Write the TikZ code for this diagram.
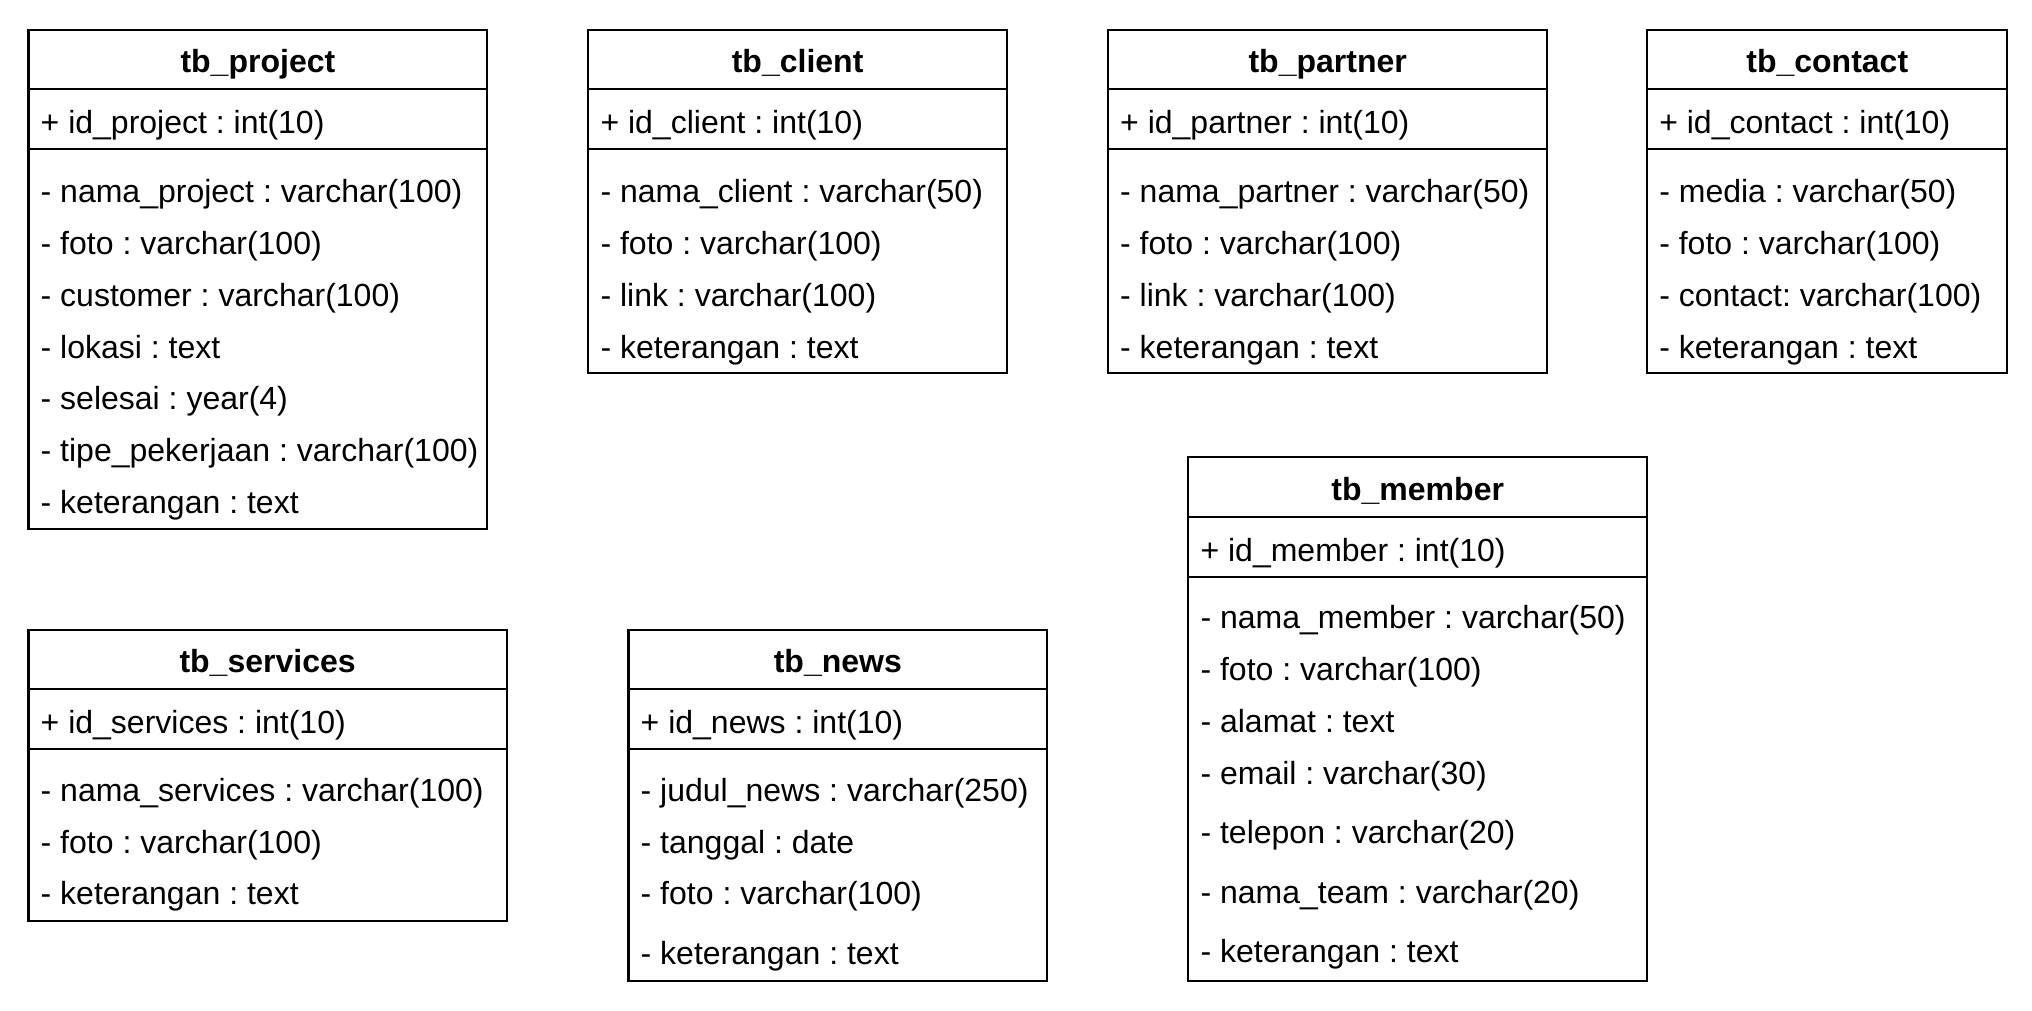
\documentclass[tikz,border=0pt]{standalone}
\usepackage{fontspec}
\setmainfont{Liberation Sans}
\frenchspacing
\begin{document}
\begin{tikzpicture}[x=0.5pt,y=-0.5pt,
  tbl/.style={draw=black,line width=0.8pt},
  sep/.style={draw=black,line width=0.8pt},
  ttl/.style={anchor=base,inner sep=0pt,font=\fontsize{12.35}{14}\selectfont\bfseries},
  fld/.style={anchor=base west,inner sep=0pt,font=\fontsize{12.35}{14}\selectfont}]
\useasboundingbox (0,0) rectangle (1568,779.4);
\fill[white] (0,0) rectangle (1568,779.4);

% ---------- tb_project ----------
\draw[tbl] (22,23) rectangle (376,408);
\draw[sep] (22,69) -- (376,69);
\draw[sep] (22,115) -- (376,115);
\node[ttl] (pT) at (199,56) {tb\_project};
\node[fld] (p0) at (31,103) {+ id\_project : int(10)};
\node[fld] (p1) at (31,156.3) {- nama\_project : varchar(100)};
\node[fld] (p2) at (31,196.3) {- foto : varchar(100)};
\node[fld] (p3) at (31,236.3) {- customer : varchar(100)};
\node[fld] (p4) at (31,276.3) {- lokasi : text};
\node[fld] (p5) at (31,316.3) {- selesai : year(4)};
\node[fld] (p6) at (31,356.3) {- tipe\_pekerjaan : varchar(100)};
\node[fld] (p7) at (31,396.3) {- keterangan : text};

% ---------- tb_client ----------
\draw[tbl] (454,23) rectangle (777,288);
\draw[sep] (454,69) -- (777,69);
\draw[sep] (454,115) -- (777,115);
\node[ttl] (cT) at (615.5,56) {tb\_client};
\node[fld] (c0) at (463,103) {+ id\_client : int(10)};
\node[fld] (c1) at (463,156.3) {- nama\_client : varchar(50)};
\node[fld] (c2) at (463,196.3) {- foto : varchar(100)};
\node[fld] (c3) at (463,236.3) {- link : varchar(100)};
\node[fld] (c4) at (463,276.3) {- keterangan : text};

% ---------- tb_partner ----------
\draw[tbl] (855,23) rectangle (1194,288);
\draw[sep] (855,69) -- (1194,69);
\draw[sep] (855,115) -- (1194,115);
\node[ttl] (rT) at (1024.5,56) {tb\_partner};
\node[fld] (r0) at (864,103) {+ id\_partner : int(10)};
\node[fld] (r1) at (864,156.3) {- nama\_partner : varchar(50)};
\node[fld] (r2) at (864,196.3) {- foto : varchar(100)};
\node[fld] (r3) at (864,236.3) {- link : varchar(100)};
\node[fld] (r4) at (864,276.3) {- keterangan : text};

% ---------- tb_contact ----------
\draw[tbl] (1271,23) rectangle (1549,288);
\draw[sep] (1271,69) -- (1549,69);
\draw[sep] (1271,115) -- (1549,115);
\node[ttl] (kT) at (1410,56) {tb\_contact};
\node[fld] (k0) at (1280,103) {+ id\_contact : int(10)};
\node[fld] (k1) at (1280,156.3) {- media : varchar(50)};
\node[fld] (k2) at (1280,196.3) {- foto : varchar(100)};
\node[fld] (k3) at (1280,236.3) {- contact: varchar(100)};
\node[fld] (k4) at (1280,276.3) {- keterangan : text};

% ---------- tb_member ----------
\draw[tbl] (917,353) rectangle (1271,757);
\draw[sep] (917,399) -- (1271,399);
\draw[sep] (917,445) -- (1271,445);
\node[ttl] (mT) at (1094,386.5) {tb\_member};
\node[fld] (m0) at (926,433) {+ id\_member : int(10)};
\node[fld] (m1) at (926,485.3) {- nama\_member : varchar(50)};
\node[fld] (m2) at (926,525.3) {- foto : varchar(100)};
\node[fld] (m3) at (926,565.3) {- alamat : text};
\node[fld] (m4) at (926,605.3) {- email : varchar(30)};
\node[fld] (m5) at (926,651) {- telepon : varchar(20)};
\node[fld] (m6) at (926,697) {- nama\_team : varchar(20)};
\node[fld] (m7) at (926,743) {- keterangan : text};

% ---------- tb_services ----------
\draw[tbl] (22,486) rectangle (391,711);
\draw[sep] (22,532) -- (391,532);
\draw[sep] (22,578) -- (391,578);
\node[ttl] (sT) at (206.5,519) {tb\_services};
\node[fld] (s0) at (31,566) {+ id\_services : int(10)};
\node[fld] (s1) at (31,618.3) {- nama\_services : varchar(100)};
\node[fld] (s2) at (31,658.3) {- foto : varchar(100)};
\node[fld] (s3) at (31,698.3) {- keterangan : text};

% ---------- tb_news ----------
\draw[tbl] (485,486) rectangle (808,757);
\draw[sep] (485,532) -- (808,532);
\draw[sep] (485,578) -- (808,578);
\node[ttl] (nT) at (646.5,519) {tb\_news};
\node[fld] (n0) at (494,566) {+ id\_news : int(10)};
\node[fld] (n1) at (494,618.3) {- judul\_news : varchar(250)};
\node[fld] (n2) at (494,658.3) {- tanggal : date};
\node[fld] (n3) at (494,698.3) {- foto : varchar(100)};
\node[fld] (n4) at (494,744) {- keterangan : text};
\end{tikzpicture}
\end{document}
